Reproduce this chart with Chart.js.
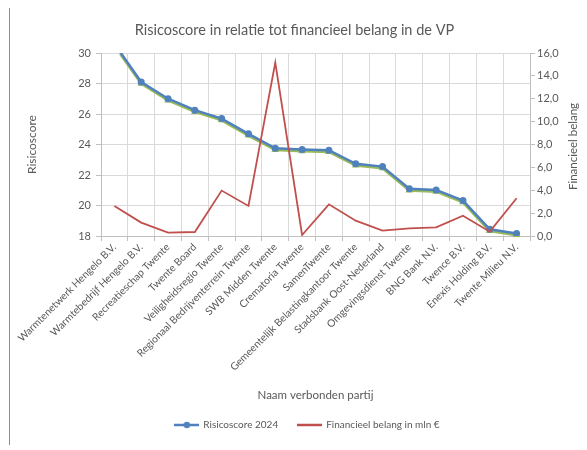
<!DOCTYPE html>
<html><head><meta charset="utf-8">
<script src="https://cdn.jsdelivr.net/npm/chart.js@4.4.0/dist/chart.umd.min.js"></script>
<style>html,body{margin:0;padding:0;background:#fff;overflow:hidden}</style>
</head><body>
<canvas id="c" width="587" height="450" style="width:587px;height:450px;display:block"></canvas>
<script>
const categories = ["Warmtenetwerk Hengelo B.V.","Warmtebedrijf Hengelo B.V.","Recreatieschap Twente","Twente Board","Veiligheidsregio Twente","Regionaal Bedrijventerrein Twente","SWB Midden Twente","Crematoria Twente","SamenTwente","Gemeentelijk Belastingkantoor Twente","Stadsbank Oost-Nederland","Omgevingsdienst Twente","BNG Bank N.V.","Twence B.V.","Enexis Holding B.V.","Twente Milieu N.V."];
const risicoscore2024 = [30.6, 28.1, 27.0, 26.25, 25.7, 24.7, 23.75, 23.68, 23.63, 22.73, 22.55, 21.1, 21.02, 20.32, 18.44, 18.17];
const financieelBelang = [2.63, 1.17, 0.29, 0.35, 3.97, 2.63, 15.17, 0.09, 2.77, 1.34, 0.47, 0.67, 0.76, 1.78, 0.38, 3.3];
const leftAxis = {min: 18, max: 30, step: 2};
const rightAxis = {min: 0, max: 16, step: 2};
const seriesNames = ["Risicoscore 2024", "Financieel belang in mln €"];
const titles = {chart: "Risicoscore in relatie tot financieel belang in de VP", x: "Naam verbonden partij", yLeft: "Risicoscore", yRight: "Financieel belang"};

const FONT = "Lato";
const TXT = "#595959";
const BLUE = "#4F81BD", GREEN = "#9BBB59", RED = "#C0504D";
const PAD_BOTTOM = 10;
const AREA_BOTTOM = 236;
const LEGEND_SHIFT = 13;

function legendImg(color, dot) {
  const c = document.createElement('canvas');
  c.width = 25; c.height = 10;
  const x = c.getContext('2d');
  x.strokeStyle = color; x.lineWidth = 2.5;
  x.beginPath(); x.moveTo(0, 5); x.lineTo(25, 5); x.stroke();
  if (dot) { x.fillStyle = color; x.beginPath(); x.arc(12.5, 5, 3.2, 0, Math.PI * 2); x.fill(); }
  return c;
}
const legendImgs = [legendImg(BLUE, true), legendImg(RED, false)];

const decor = {
  id: 'decor',
  afterLayout(chart) {
    if (chart.legend) { chart.legend.left += LEGEND_SHIFT; chart.legend.right += LEGEND_SHIFT; }
  },
  beforeDraw(chart) {
    const ctx = chart.ctx;
    ctx.save();
    ctx.fillStyle = '#fff'; ctx.fillRect(0, 0, chart.width, chart.height);
    ctx.strokeStyle = '#8c8c8c'; ctx.lineWidth = 1;
    ctx.beginPath(); ctx.moveTo(9.5, 8); ctx.lineTo(9.5, 445); ctx.stroke();
    ctx.restore();
  },
  beforeDatasetDraw(chart, args) {
    if (args.index === 2) { chart.ctx.save(); chart.ctx.translate(0, 1.5); }
  },
  afterDatasetDraw(chart, args) {
    if (args.index === 2) chart.ctx.restore();
  },
  afterDraw(chart) {
    const ctx = chart.ctx, a = chart.chartArea;
    ctx.save();
    ctx.fillStyle = TXT; ctx.font = "11.5px " + FONT;
    ctx.textAlign = 'center'; ctx.textBaseline = 'middle';
    ctx.translate(573, (a.top + a.bottom) / 2 + 2);
    ctx.rotate(-Math.PI / 2);
    ctx.fillText(titles.yRight, 0, 0);
    ctx.restore();
  }
};

new Chart(document.getElementById('c'), {
  type: 'line',
  data: {
    labels: categories,
    datasets: [
      {label: seriesNames[0], data: risicoscore2024, yAxisID: 'y', borderColor: BLUE, backgroundColor: BLUE, borderWidth: 2.5,
       pointRadius: 3.5, pointStyle: 'circle', pointBackgroundColor: BLUE, pointBorderWidth: 0, order: 2, tension: 0},
      {label: seriesNames[1], data: financieelBelang, yAxisID: 'y1', borderColor: RED, backgroundColor: RED, borderWidth: 1.8,
       pointRadius: 0, order: 1, tension: 0},
      {label: 'shadow', data: risicoscore2024, yAxisID: 'y', borderColor: GREEN, backgroundColor: GREEN, borderWidth: 3,
       pointRadius: 4.5, pointStyle: 'triangle', pointBackgroundColor: GREEN, pointBorderWidth: 0, order: 3, tension: 0}
    ]
  },
  options: {
    responsive: false,
    animation: false,
    layout: {padding: {left: 10, right: 8, top: 0, bottom: PAD_BOTTOM}},
    plugins: {
      title: {display: true, text: titles.chart, color: TXT, font: {family: FONT, size: 14.5, weight: 'normal', lineHeight: 1.2}, padding: {top: 22, bottom: 13.6}},
      legend: {
        position: 'bottom',
        labels: {
          font: {family: FONT, size: 10, lineHeight: 1.2}, color: TXT, usePointStyle: true, pointStyleWidth: 23, boxHeight: 10, padding: 20,
          filter: (item) => item.datasetIndex !== 2,
          sort: (a, b) => a.datasetIndex - b.datasetIndex,
          generateLabels: (chart) => chart.data.datasets.map((d, i) => ({
            text: d.label, datasetIndex: i, pointStyle: legendImgs[i] || 'line', fillStyle: d.borderColor,
            strokeStyle: d.borderColor, lineWidth: 0, hidden: false, fontColor: TXT
          }))
        }
      },
      tooltip: {enabled: false}
    },
    scales: {
      x: {
        type: 'category', offset: true,
        grid: {offset: true, color: '#d9d9d9', tickLength: 5, tickColor: '#bfbfbf'},
        border: {color: '#bfbfbf'},
        ticks: {autoSkip: false, maxRotation: 45, minRotation: 45, color: TXT, font: {family: FONT, size: 10.3}, padding: 0},
        title: {display: true, text: titles.x, color: TXT, font: {family: FONT, size: 11.5, lineHeight: 1.2}, padding: {top: 0, bottom: -2}},
        afterFit: (s) => {
          const lg = s.chart.legend ? s.chart.legend.height : 0;
          s.height = s.chart.height - AREA_BOTTOM - lg - PAD_BOTTOM;
        }
      },
      y: {
        position: 'left', min: leftAxis.min, max: leftAxis.max,
        ticks: {stepSize: leftAxis.step, color: TXT, font: {family: FONT, size: 11}, padding: 5},
        grid: {color: '#d9d9d9', tickLength: 5, tickColor: '#bfbfbf'},
        border: {color: '#bfbfbf'},
        title: {display: true, text: titles.yLeft, color: TXT, font: {family: FONT, size: 12, lineHeight: 1.2}, padding: {top: 15, bottom: 0}},
        afterFit: (s) => { s.width = 91; }
      },
      y1: {
        position: 'right', min: rightAxis.min, max: rightAxis.max,
        ticks: {stepSize: rightAxis.step, color: TXT, font: {family: FONT, size: 11}, padding: 2,
                callback: (v) => v.toFixed(1).replace('.', ',')},
        grid: {drawOnChartArea: false, tickLength: 5, tickColor: '#bfbfbf'},
        border: {color: '#bfbfbf'},
        afterFit: (s) => { s.width = 49; }
      }
    }
  },
  plugins: [decor]
});
</script>
</body></html>
